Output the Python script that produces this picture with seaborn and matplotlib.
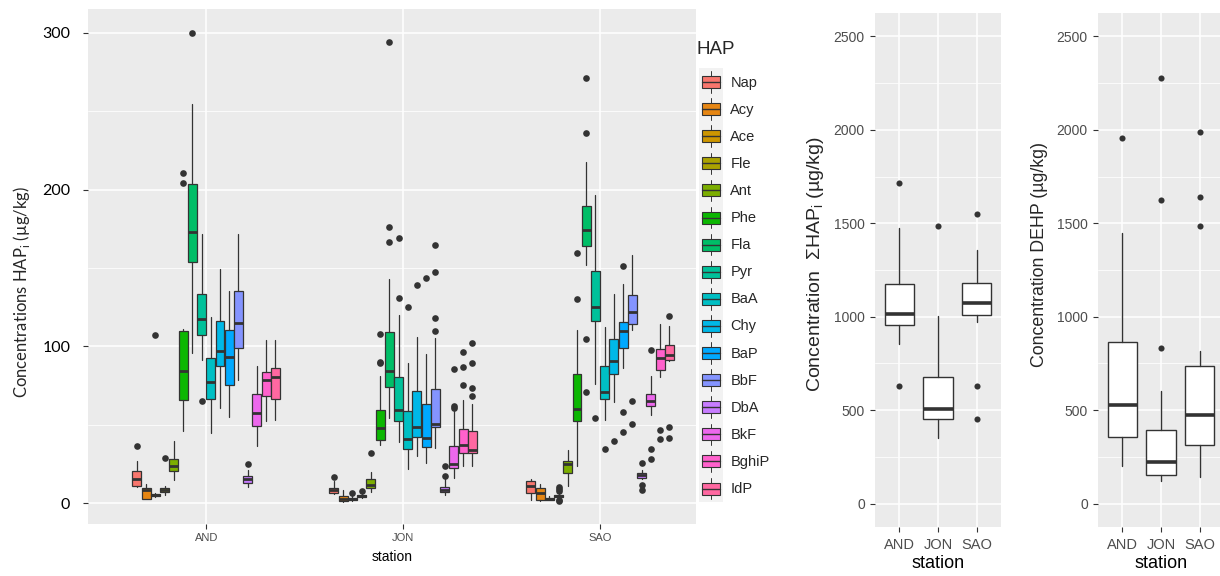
import numpy as np
import matplotlib
matplotlib.use("Agg")
import matplotlib.pyplot as plt
import seaborn as sns
from matplotlib.patches import Rectangle
from matplotlib.lines import Line2D
from matplotlib.legend_handler import HandlerBase

# ---------------- data ----------------
HAP = ["Nap", "Acy", "Ace", "Fle", "Ant", "Phe", "Fla", "Pyr",
       "BaA", "Chy", "BaP", "BbF", "DbA", "BkF", "BghiP", "IdP"]
stations = ["AND", "JON", "SAO"]

AND_q1 = [11.0, 2.5, 4.2, 7.2, 20.3, 65.9, 154.0, 107.0, 66.3, 87.7, 75.2, 98.7, 12.9, 49.2, 68.2, 66.3]
AND_med = [15.3, 8.5, 4.9, 8.5, 23.3, 84.1, 172.7, 117.2, 77.1, 97.2, 93.2, 114.6, 15.3, 57.6, 78.4, 80.3]
AND_q3 = [20.6, 9.3, 5.7, 9.3, 28.0, 109.5, 203.4, 133.7, 92.6, 116.3, 110.6, 135.0, 17.4, 69.5, 83.9, 86.4]
AND_lo = [10.5, 2.5, 3.8, 5.3, 14.4, 46.2, 95.5, 91.1, 44.5, 60.6, 55.1, 78.4, 10.2, 36.4, 52.5, 53.2]
AND_hi = [27.1, 11.9, 6.2, 10.6, 39.4, 110.8, 254.6, 172.0, 119.0, 149.6, 135.2, 172.0, 20.8, 87.3, 104.0, 104.0]
AND_out = [[36.2], [], [107.4], [28.8], [], [210.6, 204.2], [300.3], [65.0],
           [], [], [], [], [24.6], [], [], []]

JON_q1 = [6.6, 1.3, 2.1, 3.6, 9.3, 40.3, 73.9, 52.3, 34.7, 42.2, 36.0, 48.3, 6.8, 22.2, 31.8, 31.6]
JON_med = [8.1, 2.8, 2.8, 4.2, 11.7, 47.9, 84.1, 59.3, 40.9, 48.7, 41.5, 50.6, 8.5, 25.0, 37.3, 34.1]
JON_q3 = [9.5, 4.2, 3.4, 4.9, 15.5, 59.5, 109.1, 80.3, 58.5, 71.4, 63.3, 72.9, 10.0, 36.7, 47.2, 46.0]
JON_lo = [5.9, 0.8, 1.5, 3.0, 6.8, 37.3, 54.0, 38.8, 21.4, 30.1, 25.4, 35.2, 5.3, 15.9, 23.9, 23.3]
JON_hi = [13.8, 8.0, 4.9, 5.9, 19.5, 80.9, 143.2, 120.3, 89.6, 105.9, 94.9, 105.3, 15.5, 58.9, 65.9, 63.1]
JON_out = [[16.5], [], [6.4], [7.6], [32.2], [90.3, 89.4, 107.8], [294.2, 176.1, 166.8],
           [130.9, 169.3], [125.4], [139.2], [143.6], [147.2, 118.0, 110.0, 164.6],
           [17.4, 23.5], [85.6, 62.1, 60.8], [96.2, 86.9, 75.6], [102.3, 89.4, 73.1, 68.6]]

SAO_q1 = [6.6, 1.9, 2.1, 3.8, 19.3, 52.3, 163.8, 116.3, 66.5, 82.2, 98.9, 114.0, 16.1, 61.7, 85.2, 91.3]
SAO_med = [11.0, 6.1, 2.6, 4.4, 25.0, 59.7, 174.0, 125.0, 70.8, 90.9, 109.5, 122.0, 17.6, 65.3, 92.4, 94.5]
SAO_q3 = [13.8, 9.7, 3.2, 5.3, 26.7, 82.6, 189.3, 147.9, 87.7, 104.4, 115.7, 132.6, 19.1, 69.5, 98.3, 100.6]
SAO_lo = [1.7, 1.5, 1.7, 3.4, 11.0, 23.3, 152.0, 75.8, 52.8, 64.2, 86.2, 110.2, 15.5, 56.4, 80.7, 90.7]
SAO_hi = [15.5, 11.9, 4.2, 6.0, 33.9, 110.2, 217.6, 196.5, 112.1, 133.5, 140.0, 158.0, 20.8, 80.9, 114.2, 112.7]
SAO_out = [[], [], [], [10.2, 8.7, 7.4, 2.1, 1.3], [], [130.3, 159.5], [271.0, 236.1, 104.9, 70.6],
           [54.0], [34.5], [39.6], [151.0, 58.0, 45.1], [65.0, 50.6], [25.4, 11.2, 8.1],
           [97.5, 34.5, 27.8], [46.4, 40.7], [119.3, 48.3, 41.3]]

SUM_q1 = [956, 452, 1007]
SUM_med = [1015, 507, 1076]
SUM_q3 = [1176, 676, 1182]
SUM_lo = [854, 353, 972]
SUM_hi = [1475, 1005, 1359]
SUM_out = [[1714, 630], [1485], [1548, 630, 452]]

DEHP_q1 = [359, 153, 314]
DEHP_med = [527, 222, 473]
DEHP_q3 = [863, 396, 737]
DEHP_lo = [200, 122, 145]
DEHP_hi = [1449, 602, 814]
DEHP_out = [[1957], [2278, 1627, 831], [1988, 1639, 1488]]

# ---------------- style ----------------
sns.set_theme(style="darkgrid", rc={"axes.facecolor": "#EBEBEB",
                                    "grid.color": "white",
                                    "figure.facecolor": "white"})
plt.rcParams["font.family"] = ["Liberation Sans", "DejaVu Sans"]
plt.rcParams["mathtext.fontset"] = "custom"
plt.rcParams["mathtext.rm"] = "Liberation Sans"


def hcl_hex(h, c=100.0, l=65.0):
    hr = np.deg2rad(h)
    U, V = c * np.cos(hr), c * np.sin(hr)
    Xn, Yn, Zn = 95.047, 100.0, 108.883
    Y = Yn * ((l + 16) / 116) ** 3
    den = Xn + 15 * Yn + 3 * Zn
    un, vn = 4 * Xn / den, 9 * Yn / den
    u = U / (13 * l) + un
    v = V / (13 * l) + vn
    X = 9.0 * Y * u / (4 * v)
    Z = -X / 3 - 5 * Y + 3 * Y / v
    X, Y, Z = X / 100, Y / 100, Z / 100
    rgb = [3.240479 * X - 1.537150 * Y - 0.498535 * Z,
           -0.969256 * X + 1.875992 * Y + 0.041556 * Z,
           0.055648 * X - 0.204043 * Y + 1.057311 * Z]
    out = []
    for ch in rgb:
        ch = 12.92 * ch if ch <= 0.0031308 else 1.055 * ch ** (1 / 2.4) - 0.055
        out.append(min(max(ch, 0.0), 1.0))
    return tuple(out)


n = len(HAP)
palette = [hcl_hex(h) for h in np.linspace(15, 375, n + 1)[:n]]

DARK = "#333333"
W, H = 1220, 576
fig = plt.figure(figsize=(W / 100, H / 100), dpi=100)


def px_axes(x0, x1, y0, y1):
    return fig.add_axes([x0 / W, 1 - y1 / H, (x1 - x0) / W, (y1 - y0) / H])


def stats_list(q1, med, q3, lo, hi, out):
    return [dict(q1=a, med=b, q3=c, whislo=d, whishi=e, fliers=f)
            for a, b, c, d, e, f in zip(q1, med, q3, lo, hi, out)]


def style_axes(ax):
    for s in ax.spines.values():
        s.set_visible(False)
    ax.grid(which="major", color="white", lw=1.1)
    ax.grid(which="minor", color="white", lw=0.55)
    ax.set_axisbelow(True)
    ax.tick_params(axis="both", which="major", length=3.8, width=0.8,
                   color=DARK, bottom=True, left=True)
    ax.tick_params(axis="both", which="minor", length=0)


# ---------------- left panel: individual HAPs ----------------
ax = px_axes(88, 696, 9, 524)
slot = 0.75 / n
per_station = [
    stats_list(AND_q1, AND_med, AND_q3, AND_lo, AND_hi, AND_out),
    stats_list(JON_q1, JON_med, JON_q3, JON_lo, JON_hi, JON_out),
    stats_list(SAO_q1, SAO_med, SAO_q3, SAO_lo, SAO_hi, SAO_out),
]
for i, st in enumerate(per_station):
    pos = [i + (j - (n - 1) / 2) * slot for j in range(n)]
    res = ax.bxp(st, positions=pos, widths=slot * 0.97, patch_artist=True,
                 showcaps=False, manage_ticks=False,
                 boxprops=dict(edgecolor=DARK, lw=0.9),
                 medianprops=dict(color=DARK, lw=2.0, solid_capstyle="butt"),
                 whiskerprops=dict(color=DARK, lw=0.9),
                 flierprops=dict(marker="o", markerfacecolor=DARK,
                                 markeredgecolor="none", markersize=4.8))
    for b, col in zip(res["boxes"], palette):
        b.set_facecolor(col)

ax.set_xlim(-0.6, 2.487)
ax.set_ylim(-13.4, 315.3)
ax.set_xticks(range(3))
ax.set_xticklabels(stations, fontsize=8, color="#4D4D4D")
ax.set_yticks([0, 100, 200, 300])
ax.set_yticks([50, 150, 250], minor=True)
ax.set_yticklabels(["0", "100", "200", "300"], fontsize=11.5, color="black",
                   family=["Lato", "DejaVu Sans"])
style_axes(ax)
ax.tick_params(axis="y", which="major", pad=9)
ax.tick_params(axis="x", which="major", pad=3)
ax.set_xlabel("station", fontsize=10, color="black", labelpad=5)
ax.set_ylabel("")
fig.text(22 / W, 1 - 292 / H, r"Concentrations HAP$_\mathregular{i}$ (µg/kg)",
         rotation=90, ha="center", va="center", fontsize=12,
         family=["Lato", "DejaVu Sans"])


# legend with boxplot-style keys
class BoxKey(HandlerBase):
    def create_artists(self, legend, orig, xd, yd, w, h, fs, trans):
        x0, y0 = -xd, -yd
        bg = Rectangle((x0, y0), w, h, facecolor="#F2F2F2", edgecolor="none",
                       transform=trans)
        box = Rectangle((x0 + 0.12 * w, y0 + 0.28 * h), 0.76 * w, 0.44 * h,
                        facecolor=orig.get_facecolor(), edgecolor=DARK, lw=0.8,
                        transform=trans)
        med = Line2D([x0 + 0.12 * w, x0 + 0.88 * w], [y0 + 0.5 * h] * 2,
                     color=DARK, lw=1.0, transform=trans)
        w1 = Line2D([x0 + 0.5 * w] * 2, [y0 + 0.1 * h, y0 + 0.28 * h],
                    color=DARK, lw=0.7, transform=trans)
        w2 = Line2D([x0 + 0.5 * w] * 2, [y0 + 0.72 * h, y0 + 0.9 * h],
                    color=DARK, lw=0.7, transform=trans)
        return [bg, box, med, w1, w2]


handles = [Rectangle((0, 0), 1, 1, facecolor=c) for c in palette]
leg_fs = 10.5
fs_px = leg_fs * 100 / 72
key_h = 27.1 / fs_px
hh = (key_h - 0.245) / 0.65   # matplotlib subtracts a descent from the handle height
fig.legend(handles, HAP, loc="upper left",
           bbox_to_anchor=(699 / W, 1 - 68.5 / H),
           frameon=False, fontsize=leg_fs, borderpad=0, borderaxespad=0,
           labelspacing=0, handlelength=24 / fs_px,
           handleheight=hh,
           handletextpad=0.5, handler_map={Rectangle: BoxKey()})
fig.text(697 / W, 1 - 50 / H, "HAP", fontsize=13.5, ha="left", va="center")


# ---------------- middle & right panels ----------------
def total_panel(x0, x1, q1, med, q3, lo, hi, out, label, label_x, label_y, lfs):
    a = px_axes(x0, x1, 13, 527)
    a.bxp(stats_list(q1, med, q3, lo, hi, out), positions=[0, 1, 2],
          widths=0.75, patch_artist=True, showcaps=False, manage_ticks=False,
          boxprops=dict(facecolor="white", edgecolor=DARK, lw=1.0),
          medianprops=dict(color=DARK, lw=2.6, solid_capstyle="butt"),
          whiskerprops=dict(color=DARK, lw=1.0),
          flierprops=dict(marker="o", markerfacecolor=DARK,
                          markeredgecolor="none", markersize=4.4))
    a.set_xlim(-0.62, 2.62)
    a.set_ylim(-125, 2625)
    a.set_xticks(range(3))
    a.set_xticklabels(stations, fontsize=10.5, color="#4D4D4D")
    a.set_yticks([0, 500, 1000, 1500, 2000, 2500])
    a.set_yticks([250, 750, 1250, 1750, 2250], minor=True)
    a.set_yticklabels(["0", "500", "1000", "1500", "2000", "2500"],
                      fontsize=10, color="#4D4D4D")
    style_axes(a)
    a.tick_params(axis="y", which="major", pad=3.5)
    a.tick_params(axis="x", which="major", pad=4)
    a.set_xlabel("station", fontsize=13, color="black", labelpad=2)
    a.set_ylabel("")
    fig.text(label_x / W, 1 - label_y / H, label, rotation=90, ha="center",
             va="center", fontsize=lfs)
    return a


total_panel(875, 1001, SUM_q1, SUM_med, SUM_q3, SUM_lo, SUM_hi, SUM_out,
            r"Concentration  ΣHAP$_\mathregular{i}$ (µg/kg)", 816, 264, 14)
total_panel(1098, 1224, DEHP_q1, DEHP_med, DEHP_q3, DEHP_lo, DEHP_hi, DEHP_out,
            "Concentration DEHP (µg/kg)", 1040, 255, 12.8)

fig.savefig("out.png", dpi=100)
